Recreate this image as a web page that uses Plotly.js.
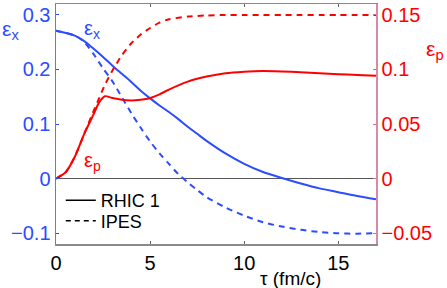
<!DOCTYPE html>
<html><head><meta charset="utf-8">
<script src="https://cdn.plot.ly/plotly-3.0.1.min.js"></script>
<style>html,body{margin:0;padding:0;background:#fff}#c{width:447px;height:288px}</style>
</head><body><div id="c"></div>
<script>
// tau (fm/c)
const tauX = [0,1,1.5,2,2.5,3,3.5,4,4.5,5,5.5,6,6.5,7,7.5,8,9,10,11,12,13,14,15,16,17];
// epsilon_x, RHIC 1 (solid blue)
const exRHIC = [0.271,0.262,0.252,0.238,0.223,0.207,0.192,0.177,0.161,0.147,0.134,0.122,0.109,0.095,0.082,0.069,0.046,0.027,0.012,0.001,-0.009,-0.018,-0.025,-0.032,-0.038];
// epsilon_x, IPES (dashed blue)
const exIPES = [0.271,0.262,0.250,0.228,0.202,0.178,0.149,0.120,0.093,0.068,0.046,0.027,0.008,-0.007,-0.021,-0.034,-0.053,-0.068,-0.080,-0.088,-0.094,-0.098,-0.1005,-0.101,-0.100];
// tau for epsilon_p
const tauP = [0,0.5,1,1.5,2,2.3,2.6,3,3.5,4,4.5,5,5.5,6,7,8,9,10,11,12,13,14,15,16,17];
// epsilon_p, RHIC 1 (solid red)
const epRHIC = [0,0.0055,0.020,0.041,0.059,0.070,0.0755,0.0738,0.0722,0.0716,0.0722,0.0738,0.0772,0.0815,0.0888,0.0935,0.0966,0.098,0.0986,0.0982,0.0975,0.0965,0.0957,0.095,0.0943];
// epsilon_p, IPES (dashed red)
const epIPES = [0,0.0055,0.020,0.041,0.062,0.074,0.086,0.099,0.113,0.124,0.132,0.138,0.143,0.146,0.1485,0.1495,0.150,0.150,0.150,0.150,0.150,0.150,0.150,0.150,0.150];
const xTicks = [0,5,10,15];
const yTicks = [-0.1,0,0.1,0.2,0.3];
const y2Ticks = [-0.05,0,0.05,0.1,0.15];

const BLUE = '#2b4cff', RED = '#ff0000';
const F = 'Liberation Sans, Arial, sans-serif';
const traces = [
  {x: tauX, y: exRHIC, mode:'lines', line:{color:BLUE,width:2,shape:'spline',smoothing:0.8}, showlegend:false},
  {x: tauX, y: exIPES, mode:'lines', line:{color:BLUE,width:2,dash:'6px,5px',shape:'spline',smoothing:0.8}, showlegend:false},
  {x: tauP, y: epRHIC, yaxis:'y2', mode:'lines', line:{color:RED,width:2,shape:'spline',smoothing:0.6}, showlegend:false},
  {x: tauP, y: epIPES, yaxis:'y2', mode:'lines', line:{color:RED,width:2,dash:'6px,5px',shape:'spline',smoothing:0.6}, showlegend:false},
  {x:[null], y:[null], mode:'lines', name:'RHIC 1', legend:'legend', line:{color:'#000',width:1.5}},
  {x:[null], y:[null], mode:'lines', name:'IPES', legend:'legend2', line:{color:'#000',width:1.5,dash:'5px,4px'}}
];
const legBase = {xanchor:'left', yanchor:'middle', bgcolor:'rgba(0,0,0,0)', font:{size:18,color:'#000'}, itemwidth:30};
const layout = {
  width:447, height:288,
  margin:{l:56, r:71, t:4, b:44},
  paper_bgcolor:'#fff', plot_bgcolor:'#fff',
  font:{family:F, size:20, color:'#000'},
  showlegend:true,
  legend:Object.assign({x:0.015, y:(244-200.5)/240}, legBase),
  legend2:Object.assign({x:0.015, y:(244-221)/240}, legBase),
  xaxis:{range:[0,17], tickvals:xTicks, ticks:'inside', ticklen:3, tickcolor:'#666', showline:true, linecolor:'#8a8a8a', linewidth:1.5, mirror:'ticks', showgrid:false, zeroline:false, tickfont:{size:20,color:'#000'}},
  yaxis:{range:[-0.12,0.32], tickvals:yTicks, ticktext:['\u22120.1','0','0.1','0.2','0.3'], ticks:'inside', ticklen:3, tickcolor:BLUE, showline:true, linecolor:'#5a78ff', linewidth:1.5, showgrid:false, zeroline:true, zerolinecolor:'#555', zerolinewidth:1, tickfont:{size:20,color:BLUE}},
  yaxis2:{range:[-0.06,0.16], overlaying:'y', side:'right', tickvals:y2Ticks, ticktext:['\u22120.05','0','0.05','0.1','0.15'], ticks:'inside', ticklen:3, tickcolor:'#d07090', showline:true, linecolor:'#d888a8', linewidth:1.5, showgrid:false, zeroline:false, tickfont:{size:20,color:RED}},
  annotations:[
    {xref:'paper', yref:'paper', x:-0.175, y:0.89, xanchor:'left', yanchor:'middle', showarrow:false, text:'\u03b5<sub>x</sub>', font:{size:21,color:BLUE}},
    {xref:'paper', yref:'paper', x:1.15, y:0.81, xanchor:'left', yanchor:'middle', showarrow:false, text:'\u03b5<sub>p</sub>', font:{size:21,color:RED}},
    {xref:'paper', yref:'paper', x:0.08, y:0.895, xanchor:'left', yanchor:'middle', showarrow:false, text:'\u03b5<sub>x</sub>', font:{size:20,color:BLUE}},
    {xref:'paper', yref:'paper', x:0.08, y:0.345, xanchor:'left', yanchor:'middle', showarrow:false, text:'\u03b5<sub>p</sub>', font:{size:20,color:RED}},
    {xref:'paper', yref:'paper', x:0.63, y:-0.09, xanchor:'left', yanchor:'top', showarrow:false, text:'\u03c4 (fm/c)', font:{size:19,color:'#000'}}
  ]
};
Plotly.newPlot('c', traces, layout, {staticPlot:true, displayModeBar:false});
</script></body></html>
